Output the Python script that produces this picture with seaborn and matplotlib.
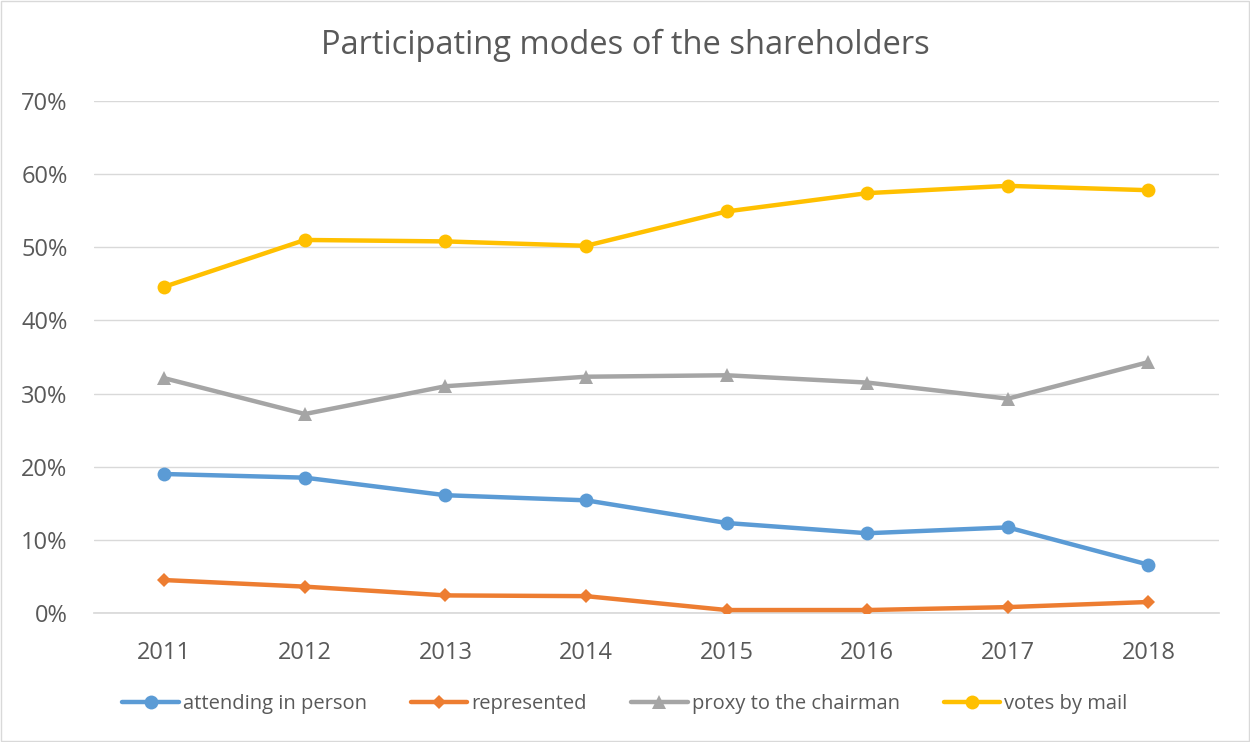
import matplotlib
matplotlib.use("Agg")
import matplotlib.pyplot as plt
import seaborn as sns
import pandas as pd
from matplotlib.ticker import FuncFormatter

years = ["2011", "2012", "2013", "2014", "2015", "2016", "2017", "2018"]
attending = [19.0, 18.5, 16.1, 15.4, 12.3, 10.9, 11.7, 6.6]
represented = [4.5, 3.6, 2.4, 2.3, 0.4, 0.4, 0.8, 1.5]
proxy = [32.1, 27.2, 31.0, 32.3, 32.5, 31.5, 29.3, 34.3]
votes = [44.6, 51.0, 50.8, 50.2, 54.9, 57.4, 58.4, 57.8]
series_names = ["attending in person", "represented", "proxy to the chairman", "votes by mail"]

sns.set_theme(style="white")
plt.rcParams['font.family'] = ['Open Sans', 'DejaVu Sans']

rows = []
for name, vals in zip(series_names, [attending, represented, proxy, votes]):
    for i, (y, v) in enumerate(zip(years, vals)):
        rows.append({"idx": i, "year": y, "series": name, "value": v})
df = pd.DataFrame(rows)

palette = {"attending in person": "#5B9BD5", "represented": "#ED7D31",
           "proxy to the chairman": "#A5A5A5", "votes by mail": "#FFC000"}
markers = {"attending in person": "o", "represented": "D",
           "proxy to the chairman": "^", "votes by mail": "o"}
msize = {"attending in person": 10, "represented": 7.5,
         "proxy to the chairman": 10, "votes by mail": 10}

fig = plt.figure(figsize=(12.5, 7.42), dpi=100)
ax = fig.add_axes([0.0752, 0.1739, 0.8998, 0.69])

for name in series_names:
    sub = df[df.series == name]
    sns.lineplot(data=sub, x="idx", y="value", ax=ax, color=palette[name],
                 marker=markers[name], markersize=msize[name], linewidth=3.2,
                 markeredgewidth=0, label=name, zorder=3)

ax.set_xlim(-0.5, 7.5)
ax.set_ylim(0, 70)
ax.set_yticks(range(0, 71, 10))
ax.yaxis.set_major_formatter(FuncFormatter(lambda v, p: f"{int(v)}%"))
ax.set_xticks(range(len(years)))
ax.set_xticklabels(years)
ax.grid(axis='y', color='#D9D9D9', linewidth=1)
ax.set_axisbelow(True)
for s in ["top", "right", "left"]:
    ax.spines[s].set_visible(False)
ax.spines["bottom"].set_color('#D9D9D9')
ax.tick_params(axis='both', colors='#595959', labelsize=17, length=0)
ax.tick_params(axis='x', pad=20)
ax.tick_params(axis='y', pad=19)
ax.set_xlabel("")
ax.set_ylabel("")

fig.text(0.5, 0.939, "Participating modes of the shareholders", ha='center', va='center',
         fontsize=23.5, color='#595959')

ax.get_legend().remove()
handles, labels = ax.get_legend_handles_labels()
fig.legend(handles, labels, loc='center', bbox_to_anchor=(0.5, 0.051), ncol=4,
           frameon=False, fontsize=14.5, labelcolor='#595959', handlelength=2.8,
           columnspacing=2.2, handletextpad=0.2)

fig.patches.append(plt.Rectangle((0.001, 0.001), 0.998, 0.998, transform=fig.transFigure,
                                 fill=False, edgecolor='#D9D9D9', linewidth=1))
fig.savefig("out.png", dpi=100)
